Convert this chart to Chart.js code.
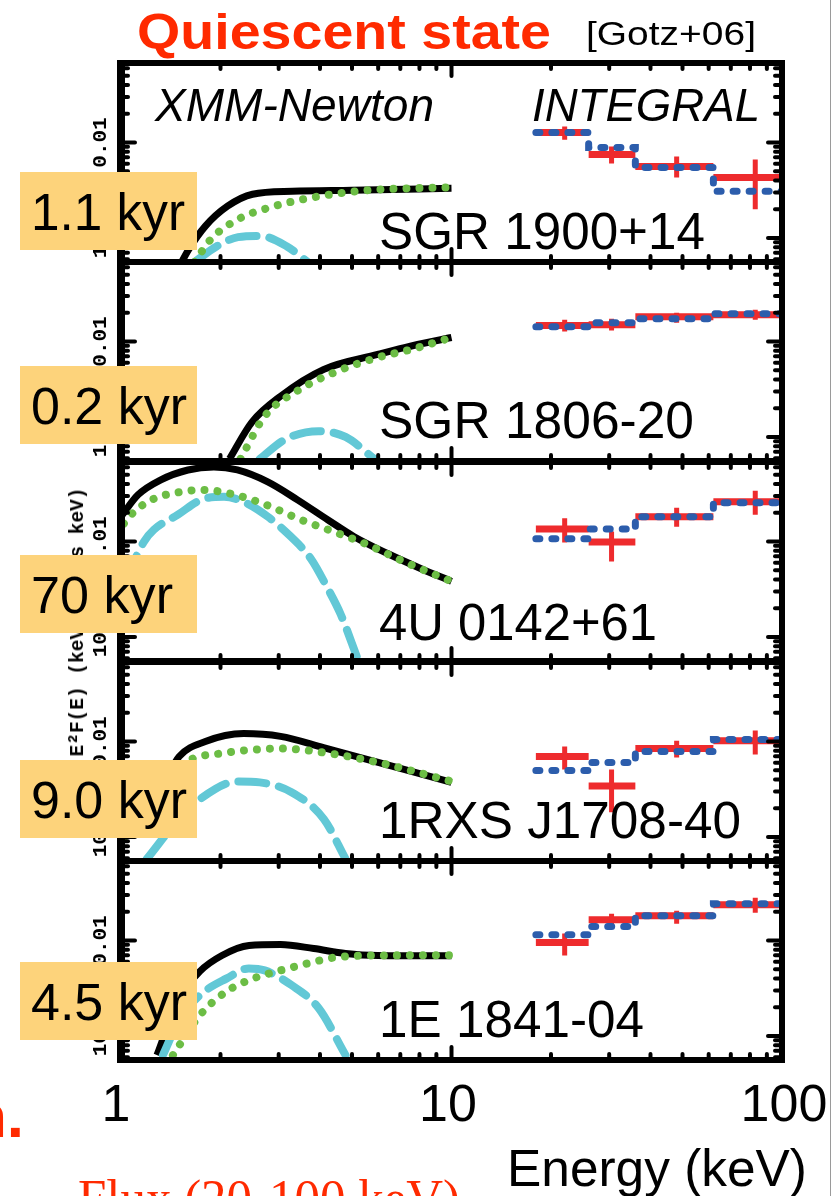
<!DOCTYPE html>
<html>
<head>
<meta charset="utf-8">
<script src="https://cdn.jsdelivr.net/npm/chart.js@4.4.1/dist/chart.umd.min.js"></script>
<style>
  body { margin: 0; background: #fff; }
  #page { position: relative; width: 838px; height: 1196px; overflow: hidden; background: #fff; }
  canvas { position: absolute; left: 0; z-index: 1; }
  .t { position: absolute; white-space: nowrap; transform-origin: 0 50%; }
  .box { position: absolute; left: 20px; width: 177px; height: 78px; background: #fdd37b; z-index: 3; }
  #edge { position: absolute; left: 830px; top: 0; width: 1px; height: 1196px; background: #9a9a9a; }
</style>
</head>
<body>
<div id="page"><div id="edge"></div></div>
<script>
// ---- data ----
const sources = ['SGR 1900+14', 'SGR 1806-20', '4U 0142+61', '1RXS J1708-40', '1E 1841-04'];
const ages = ['1.1 kyr', '0.2 kyr', '70 kyr', '9.0 kyr', '4.5 kyr'];
const xTickLabels = ['1', '10', '100'];
const yLabelTicks = [0.01, 0.001];

// INTEGRAL bins (keV)
const binEdges = [18, 26, 36, 62, 100];
const binCenters = [22, 30.5, 48, 83];

const redFlux = [
  [1.27e-2, 7.48e-3, 5.61e-3, 4.31e-3],
  [1.47e-2, 1.50e-2, 1.82e-2, 1.91e-2],
  [1.35e-2, 9.86e-3, 1.82e-2, 2.60e-2],
  [6.96e-3, 3.42e-3, 8.44e-3, 1.02e-2],
  [9.51e-3, 1.65e-2, 1.82e-2, 2.37e-2]
];
const redLow = [
  [1.07e-2, 6.03e-3, 4.31e-3, 2.0e-3],
  [1.27e-2, 1.30e-2, 1.57e-2, 1.69e-2],
  [9.74e-3, 6.18e-3, 1.43e-2, 1.91e-2],
  [5.10e-3, 1.82e-3, 6.80e-3, 7.31e-3],
  [6.96e-3, 1.43e-2, 1.50e-2, 1.95e-2]
];
const redHigh = [
  [1.47e-2, 9.07e-3, 7.13e-3, 6.64e-3],
  [1.69e-2, 1.73e-2, 2.0e-2, 2.15e-2],
  [1.75e-2, 1.27e-2, 2.26e-2, 3.39e-2],
  [8.85e-3, 5.10e-3, 1.02e-2, 1.30e-2],
  [1.18e-2, 1.91e-2, 2.05e-2, 2.80e-2]
];
const blueModel = [
  [1.27e-2, 8.85e-3, 5.48e-3, 3.08e-3],
  [1.43e-2, 1.57e-2, 1.73e-2, 1.95e-2],
  [1.07e-2, 1.35e-2, 1.82e-2, 2.54e-2],
  [4.98e-3, 6.03e-3, 7.85e-3, 1.05e-2],
  [1.15e-2, 1.40e-2, 1.82e-2, 2.42e-2]
];

// XMM-Newton model curves
const blackE = [
  [1.5, 1.6, 1.8, 2.1, 2.5, 3.3, 5, 10],
  [2.13, 2.49, 3.04, 4.11, 5.98, 7.21, 10],
  [1.0, 1.126, 1.32, 1.594, 1.91, 2.25, 2.78, 3.42, 4.22, 5.06, 6.4, 8.06, 10],
  [1.3, 1.4, 1.5, 1.8, 2.35, 3.04, 4.1, 6.0, 10],
  [1.285, 1.497, 1.732, 2.02, 2.44, 3.04, 3.83, 4.78, 5.98, 10]
];
const blackF = [
  [5.0e-4, 7.5e-4, 1.33e-3, 2.15e-3, 2.87e-3, 3.08e-3, 3.16e-3, 3.31e-3],
  [5.9e-4, 1.43e-3, 2.67e-3, 5.10e-3, 7.31e-3, 8.64e-3, 1.10e-2],
  [1.82e-2, 3.08e-2, 4.42e-2, 5.61e-2, 6.03e-2, 5.61e-2, 4.21e-2, 2.73e-2, 1.69e-2, 1.13e-2, 7.48e-3, 5.22e-3, 3.82e-3],
  [2.67e-3, 4.63e-3, 6.96e-3, 9.98e-3, 1.21e-2, 1.13e-2, 8.64e-3, 6.03e-3, 3.73e-3],
  [6.3e-4, 2.48e-3, 4.75e-3, 6.96e-3, 8.85e-3, 9.07e-3, 8.23e-3, 7.31e-3, 6.96e-3, 6.9e-3]
];
const greenE = [
  [1.67, 1.87, 2.26, 2.84, 3.83, 5.58, 7.5, 10],
  [2.30, 2.72, 3.40, 4.43, 5.98, 7.52, 10],
  [1.02, 1.095, 1.258, 1.518, 1.78, 2.15, 2.70, 3.5, 4.39, 5.56, 7.16, 10],
  [1.03, 1.2, 1.45, 1.65, 2.0, 2.35, 3.04, 4.1, 6.0, 10],
  [1.436, 1.732, 2.09, 2.52, 3.04, 3.67, 4.43, 5.98, 10]
];
const greenF = [
  [5.6e-4, 9.7e-4, 1.57e-3, 2.10e-3, 2.67e-3, 3.16e-3, 3.31e-3, 3.39e-3],
  [5.9e-4, 1.65e-3, 3.01e-3, 4.75e-3, 6.80e-3, 8.23e-3, 1.10e-2],
  [1.54e-2, 2.05e-2, 2.80e-2, 3.31e-2, 3.47e-2, 3.16e-2, 2.48e-2, 1.69e-2, 1.27e-2, 9.29e-3, 6.18e-3, 3.82e-3],
  [1.02e-3, 2.37e-3, 4.86e-3, 6.64e-3, 7.48e-3, 8.04e-3, 8.44e-3, 7.66e-3, 6.03e-3, 3.82e-3],
  [6.3e-4, 1.65e-3, 2.94e-3, 4.01e-3, 4.86e-3, 5.75e-3, 6.64e-3, 6.96e-3, 7.0e-3]
];
const cyanE = [
  [1.67, 1.95, 2.26, 2.63, 3.17, 3.67],
  [2.63, 3.15, 3.96, 4.78, 5.89],
  [1.03, 1.095, 1.174, 1.258, 1.487, 1.745, 2.05, 2.35, 2.78, 3.26, 3.75, 4.22, 4.62, 5.19],
  [1.198, 1.497, 1.732, 2.26, 2.63, 3.28, 4.11, 4.78],
  [1.339, 1.5, 1.732, 2.09, 2.436, 2.72, 3.286, 3.965, 4.78]
];
const cyanF = [
  [5.6e-4, 8.2e-4, 1.02e-3, 1.05e-3, 8.2e-4, 5.6e-4],
  [5.9e-4, 9.5e-4, 1.15e-3, 1.0e-3, 5.75e-4],
  [3.82e-3, 6.18e-3, 9.98e-3, 1.33e-2, 1.91e-2, 2.73e-2, 2.94e-2, 2.60e-2, 1.82e-2, 1.13e-2, 6.64e-3, 3.23e-3, 1.73e-3, 6.0e-4],
  [5.9e-4, 1.54e-3, 2.48e-3, 3.82e-3, 3.73e-3, 2.94e-3, 1.54e-3, 5.9e-4],
  [6.3e-4, 1.47e-3, 2.67e-3, 4.01e-3, 5.10e-3, 4.86e-3, 3.39e-3, 1.95e-3, 6.3e-4]
];

// ---- layout ----
const panelTops = [63, 262, 462, 662, 861];
const PANEL_H = 199;
const PAD = 14;
const X_LEFT = 121, X_RIGHT = 782;
const Y_MIN = 5.6e-4, Y_MAX = 0.068;
const boxTops = [172, 366, 555, 760, 962];

const page = document.getElementById('page');

function xy(xs, ys) { return xs.map((x, i) => ({ x: x, y: ys[i] })); }

function stepPoints(edges, vals) {
  const pts = [];
  vals.forEach((v, i) => { pts.push({ x: edges[i], y: v }, { x: edges[i + 1], y: v }); });
  return pts;
}
function hBars(edges, vals) {
  const pts = [];
  vals.forEach((v, i) => { pts.push({ x: edges[i], y: v }, { x: edges[i + 1], y: v }, { x: edges[i + 1], y: null }); });
  return pts;
}
function vBars(centers, lo, hi) {
  const pts = [];
  centers.forEach((c, i) => { pts.push({ x: c, y: lo[i] }, { x: c, y: hi[i] }, { x: c, y: null }); });
  return pts;
}

// frame, inward ticks and rotated y labels
const frameTicks = {
  id: 'frameTicks',
  afterDraw(chart) {
    const { ctx, chartArea: a, scales: { x, y } } = chart;
    ctx.save();
    ctx.strokeStyle = '#000';
    ctx.lineCap = 'round';
    ctx.lineWidth = 4;
    const seg = (x1, y1, x2, y2) => { ctx.beginPath(); ctx.moveTo(x1, y1); ctx.lineTo(x2, y2); ctx.stroke(); };

    for (let e = 0; e <= 2; e++) {
      for (let m = 1; m <= 9; m++) {
        const v = m * Math.pow(10, e);
        if (v > 100.001) break;
        const px = x.getPixelForValue(v);
        const len = m === 1 ? 13 : 6;
        seg(px, a.top, px, a.top + len);
        seg(px, a.bottom, px, a.bottom - len);
      }
    }
    for (let e = -4; e <= -1; e++) {
      for (let m = 1; m <= 9; m++) {
        const v = m * Math.pow(10, e);
        if (v < Y_MIN || v > Y_MAX) continue;
        const py = y.getPixelForValue(v);
        const len = m === 1 ? 14 : 7;
        seg(a.left, py, a.left + len, py);
        seg(a.right, py, a.right - len, py);
      }
    }
    ctx.lineCap = 'butt';
    ctx.lineWidth = 6;
    ctx.strokeRect(a.left, a.top, a.right - a.left, a.bottom - a.top);
    ctx.lineWidth = 8;
    seg(a.left, a.top - 3, a.left, a.bottom + 3);

    // rotated y tick labels
    ctx.fillStyle = '#000';
    ctx.textBaseline = 'middle';
    yLabelTicks.forEach(v => {
      const py = y.getPixelForValue(v);
      ctx.save();
      ctx.translate(101, py);
      ctx.rotate(-Math.PI / 2);
      if (v === 0.01) {
        ctx.font = 'bold 21px "Liberation Mono", monospace';
        ctx.textAlign = 'center';
        ctx.fillText('0.01', 0, 0);
      } else {
        ctx.font = 'bold 21px "Liberation Mono", monospace';
        const w1 = ctx.measureText('10').width;
        ctx.font = 'bold 13px "Liberation Mono", monospace';
        const w2 = ctx.measureText('-3').width;
        const x0 = -(w1 + w2) / 2;
        ctx.textAlign = 'left';
        ctx.font = 'bold 21px "Liberation Mono", monospace';
        ctx.fillText('10', x0, 0);
        ctx.font = 'bold 13px "Liberation Mono", monospace';
        ctx.fillText('-3', x0 + w1, -8);
      }
      ctx.restore();
    });
    ctx.restore();
  }
};

panelTops.forEach((top, p) => {
  const cv = document.createElement('canvas');
  cv.width = 838;
  cv.height = PANEL_H + 2 * PAD;
  cv.style.top = (top - PAD) + 'px';
  page.appendChild(cv);

  new Chart(cv, {
    type: 'line',
    data: {
      datasets: [
        { data: stepPoints(binEdges, blueModel[p]), borderColor: '#2c5dac', borderWidth: 7,
          borderDash: [4, 12], borderCapStyle: 'round', tension: 0, order: 0 },
        { data: vBars(binCenters, redLow[p], redHigh[p]), borderColor: '#ee2b2d', borderWidth: 5,
          tension: 0, order: 1 },
        { data: hBars(binEdges, redFlux[p]), borderColor: '#ee2b2d', borderWidth: 7,
          tension: 0, order: 2 },
        { data: xy(greenE[p], greenF[p]), borderColor: '#6cbd45', borderWidth: 8,
          borderDash: [0.01, 13], borderCapStyle: 'round', cubicInterpolationMode: 'monotone', order: 3 },
        { data: xy(cyanE[p], cyanF[p]), borderColor: '#62c8d6', borderWidth: 8,
          borderDash: [28, 13], borderCapStyle: 'round', cubicInterpolationMode: 'monotone', order: 4 },
        { data: xy(blackE[p], blackF[p]), borderColor: '#000', borderWidth: 7,
          cubicInterpolationMode: 'monotone', order: 5 }
      ]
    },
    options: {
      responsive: false,
      animation: false,
      events: [],
      clip: 0,
      layout: { padding: { left: X_LEFT, right: 838 - X_RIGHT, top: PAD, bottom: PAD }, autoPadding: false },
      plugins: { legend: { display: false }, tooltip: { enabled: false } },
      elements: { point: { radius: 0 }, line: { fill: false } },
      scales: {
        x: { type: 'logarithmic', min: 1, max: 100, bounds: 'data', display: false },
        y: { type: 'logarithmic', min: Y_MIN, max: Y_MAX, bounds: 'data', display: false }
      }
    },
    plugins: [frameTicks]
  });
});

// ---- text overlays ----
function addText(txt, o) {
  const el = document.createElement('div');
  el.className = 't';
  el.textContent = txt;
  const fam = o.family || '"Liberation Sans", Arial, sans-serif';
  el.style.font = (o.style || 'normal') + ' ' + (o.weight || 'normal') + ' ' + o.size + 'px ' + fam;
  el.style.lineHeight = o.size + 'px';
  el.style.color = o.color || '#000';
  el.style.zIndex = o.z || 5;
  page.appendChild(el);
  el.style.top = (o.base - (o.asc || 0.8465) * o.size) + 'px';
  const w = el.getBoundingClientRect().width;
  const sx = o.width ? o.width / w : 1;
  let left = o.left;
  if (o.cx !== undefined) left = o.cx - w * sx / 2;
  el.style.left = left + 'px';
  if (sx !== 1) el.style.transform = 'scaleX(' + sx + ')';
  return el;
}

// y axis title, partly hidden behind the age boxes
const yt = document.createElement('div');
yt.className = 't';
yt.textContent = 'E²F(E) (keV²/cm² s keV)';
yt.style.font = 'bold 20px "Liberation Mono", monospace';
yt.style.lineHeight = '20px';
yt.style.zIndex = 2;
page.appendChild(yt);
const ytw = yt.getBoundingClientRect().width;
yt.style.left = (78 - ytw / 2) + 'px';
yt.style.top = (622 - 10) + 'px';
yt.style.transformOrigin = '50% 50%';
yt.style.transform = 'rotate(-90deg) scaleX(' + (269 / ytw) + ')';

addText('Quiescent state', { left: 137, width: 414, base: 49, size: 50, weight: 'bold', color: '#ff2a00' });
addText('[Gotz+06]', { left: 586, width: 170, base: 45, size: 34 });
addText('XMM-Newton', { left: 155, width: 279, base: 121, size: 46, style: 'italic' });
addText('INTEGRAL', { left: 532, width: 228, base: 121, size: 46, style: 'italic' });

const srcWidths = [326, 315, 278, 362, 265];
const srcBases = [249, 438, 640, 838, 1037];
sources.forEach((s, i) => addText(s, { left: 379, width: srcWidths[i], base: srcBases[i], size: 52 }));

const ageWidths = [154, 156, 142, 156, 156];
boxTops.forEach((t, i) => {
  const b = document.createElement('div');
  b.className = 'box';
  b.style.top = t + 'px';
  page.appendChild(b);
  addText(ages[i], { left: 31, width: ageWidths[i], base: t + 58, size: 51, z: 4 });
});

const xLabelCenters = [116, 448, 784];
xTickLabels.forEach((s, i) => addText(s, { cx: xLabelCenters[i], base: 1121, size: 52 }));
addText('Energy (keV)', { left: 507, width: 300, base: 1186, size: 52 });

addText('n.', { left: -31, base: 1137, size: 62, weight: 'bold', color: '#ff2a00' });
addText('Flux (20-100 keV)', { left: 78, width: 382, base: 1217, size: 52, color: '#ff2a00',
  family: '"Liberation Serif", "Times New Roman", serif', asc: 0.8375 });
</script>
</body>
</html>
